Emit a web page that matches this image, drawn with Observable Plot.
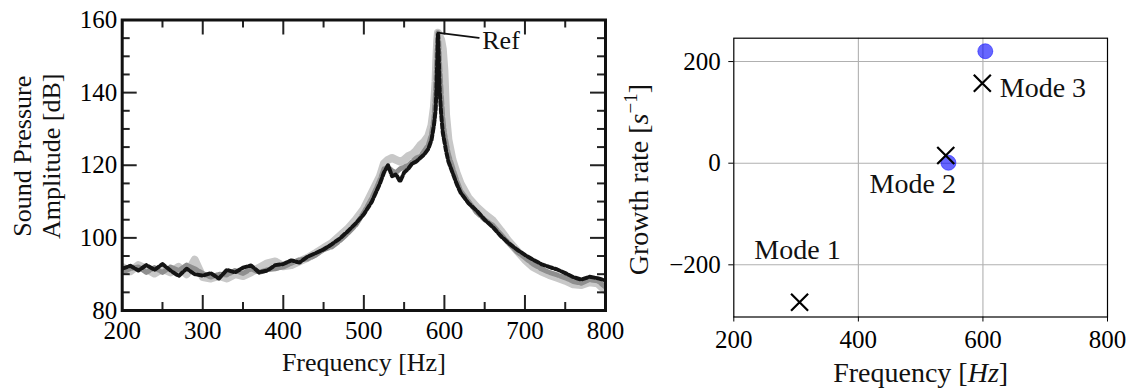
<!DOCTYPE html>
<html><head><meta charset="utf-8">
<script src="https://cdn.jsdelivr.net/npm/d3@7"></script>
<script src="https://cdn.jsdelivr.net/npm/@observablehq/plot@0.6"></script>
<style>
html,body{margin:0;padding:0;background:#fff;}
#wrap{position:relative;width:1131px;height:388px;overflow:hidden;font-family:"Liberation Serif",serif;}
#wrap svg{position:absolute;top:0;}
</style></head><body><div id="wrap"></div>
<script>
// ---------- Left panel data (spectrum) ----------
const freqs = [200,210,220,230,240,250,260,270,280,290,300,310,320,330,340,350,360,370,380,390,400,410,420,430,440,450,460,470,480,490,500,510,520,
  525,530,535,540,545,550,555,560,565,570,575,
  580,584,587,589,590,591,592,593,594,596,598,600,602,605,610,615,620,
  630,640,650,660,670,680,690,700,710,720,730,740,750,760,770,780,790,800];
const ampBlack = [91.5,92.3,91.0,92.5,91.2,92.8,91.0,89.5,91.5,90.0,89.6,90.3,88.8,91.2,90.5,91.8,92.4,90.5,91.0,92.5,92.8,93.8,93.2,94.8,95.8,96.8,98.2,99.8,101.8,104.0,106.5,110.0,115.0,
  118.0,120.0,117.0,117.5,115.5,118.0,119.0,120.5,121.0,122.0,123.0,
  124.5,127.0,131.0,135.0,140.0,148.0,156.0,150.0,141.0,134.0,129.0,126.5,124.0,121.0,118.0,115.0,112.5,
  109.5,107.5,105.0,103.0,100.5,98.5,96.8,95.3,94.0,92.8,92.0,91.3,90.3,89.2,88.5,89.3,88.9,88.3];
const ampGray = [90.5,91.5,92.0,90.5,91.8,90.5,92.0,91.0,92.5,91.5,90.2,89.2,90.0,89.8,91.0,90.2,91.5,90.5,91.2,91.5,92.0,93.0,94.0,94.2,95.2,96.8,97.5,99.2,101.2,103.5,107.0,111.0,116.0,
  119.0,119.5,118.5,118.0,119.0,119.5,120.0,121.0,122.0,122.5,124.0,
  125.5,128.5,133.0,140.0,146.0,152.0,156.5,154.0,148.0,140.0,133.0,129.0,126.5,123.0,119.5,116.0,113.0,
  110.0,107.0,105.0,103.5,101.0,98.5,96.2,94.5,92.8,91.5,90.5,89.8,89.0,88.0,87.5,88.5,88.2,86.5];
const ampLight = [92.0,90.8,92.5,91.5,90.2,91.5,90.5,92.0,90.0,94.0,89.2,88.8,89.5,88.8,90.0,89.5,90.5,91.8,93.0,93.5,92.2,92.5,93.5,94.5,95.8,97.2,98.5,100.5,102.5,105.0,108.0,112.5,117.0,
  120.5,121.5,122.0,121.5,121.0,121.5,122.5,123.0,124.0,125.5,126.5,
  128.0,131.0,136.0,143.0,149.0,154.0,156.5,156.0,155.5,154.5,152.0,146.0,134.0,127.0,121.5,118.0,115.0,
  111.0,108.5,106.5,104.8,102.0,99.0,96.5,94.0,92.0,90.8,89.8,89.0,88.2,87.2,87.0,87.8,87.5,85.5];
const refLineFreq = [591.6, 598.3, 642.7];
const refLineDb = [156.5, 156.3, 155.1];
const refLabel = ["Ref"], refLabelFreq = [647], refLabelDb = [151.9];
const leftXMajor = [200,300,400,500,600,700,800];
const leftXMinor = [250,350,450,550,650,750];
const leftYMajor = [80,100,120,140,160];
const leftYMinor = [85,90,95,105,110,115,125,130,135,145,150,155];

// ---------- Right panel data (modes) ----------
const crossFreq = [305.6, 540.3, 599.0];
const crossRate = [-273.6, 15.0, 157.4];
const circleFreq = [544.6, 603.8];
const circleRate = [0.8, 220.4];
const modeLabels = ["Mode 1", "Mode 2", "Mode 3"];
const modeFreq = [233, 418, 627];
const modeRate = [-188, -58, 130];
const rightXTicks = [200, 400, 600, 800];
const rightYTicks = [-200, 0, 200];

const series = (a) => freqs.map((f, i) => ({f, v: a[i]}));
const FONT = "Liberation Serif";

// ---------- Left plot ----------
const W1 = 620, H1 = 388, mL1 = 121.7, mR1 = 15, mT1 = 19.5, mB1 = 78;
const fw1 = W1 - mL1 - mR1, fh1 = H1 - mT1 - mB1;
const MAJ = 15, MIN = 8;
const tk = {stroke: "#222", strokeWidth: 2};
const left = Plot.plot({
  width: W1, height: H1,
  marginLeft: mL1, marginRight: mR1, marginTop: mT1, marginBottom: mB1,
  x: {domain: [200, 800]},
  y: {domain: [80, 160]},
  style: `font-family: '${FONT}', serif; background: transparent; overflow: visible; max-width: none; position: absolute; left: 0px; top: 0px;`,
  marks: [
    Plot.line(series(ampLight), {x: "f", y: "v", stroke: "#c8c8c8", strokeWidth: 8, strokeLinejoin: "round", clip: true}),
    Plot.line(series(ampGray), {x: "f", y: "v", stroke: "#8f8f8f", strokeWidth: 5, strokeLinejoin: "round", strokeDasharray: "8 3", clip: true}),
    Plot.line(series(ampBlack), {x: "f", y: "v", stroke: "#141414", strokeWidth: 4, strokeLinejoin: "round", strokeDasharray: "5 2.5", clip: true}),
    Plot.ruleX(leftXMajor, {insetTop: fh1 - MAJ, ...tk}),
    Plot.ruleX(leftXMajor, {insetBottom: fh1 - MAJ, ...tk}),
    Plot.ruleX(leftXMinor, {insetTop: fh1 - MIN, ...tk}),
    Plot.ruleX(leftXMinor, {insetBottom: fh1 - MIN, ...tk}),
    Plot.ruleY(leftYMajor, {insetRight: fw1 - MAJ, ...tk}),
    Plot.ruleY(leftYMajor, {insetLeft: fw1 - MAJ, ...tk}),
    Plot.ruleY(leftYMinor, {insetRight: fw1 - MIN, ...tk}),
    Plot.ruleY(leftYMinor, {insetLeft: fw1 - MIN, ...tk}),
    Plot.frame({stroke: "#111", strokeWidth: 3}),
    Plot.axisX(leftXMajor, {tickSize: 0, tickPadding: 11, fontSize: 25, fontFamily: FONT, label: null}),
    Plot.axisY(leftYMajor, {tickSize: 0, tickPadding: 5, fontSize: 25, fontFamily: FONT, label: null}),
    Plot.line(refLineFreq.map((f, i) => ({f, v: refLineDb[i]})), {x: "f", y: "v", stroke: "#111", strokeWidth: 1.8}),
    Plot.text(refLabel, {x: (d, i) => refLabelFreq[i], y: (d, i) => refLabelDb[i], text: d => d, textAnchor: "start", lineAnchor: "bottom", fontSize: 26, fontFamily: FONT, fill: "#111"}),
    Plot.text(["Frequency [Hz]"], {frameAnchor: "bottom", lineAnchor: "bottom", dy: 60.7, fontSize: 26, fontFamily: FONT, fill: "#111"}),
    Plot.text(["Sound Pressure\nAmplitude [dB]"], {frameAnchor: "left", rotate: -90, textAnchor: "middle", lineAnchor: "middle", lineHeight: 1.15, dx: -86.3, dy: -9, fontSize: 26, fontFamily: FONT, fill: "#111"})
  ]
});

// ---------- Right plot ----------
const W2 = 531, H2 = 388, mL2 = 133.3, mR2 = 24, mT2 = 37.7, mB2 = 71.5;
const right = Plot.plot({
  width: W2, height: H2,
  marginLeft: mL2, marginRight: mR2, marginTop: mT2, marginBottom: mB2,
  x: {domain: [200, 800]},
  y: {domain: [-302.7, 246]},
  style: `font-family: '${FONT}', serif; background: transparent; overflow: visible; max-width: none; position: absolute; left: 600px; top: 0px;`,
  marks: [
    Plot.gridX([400, 600], {stroke: "#b0b0b0", strokeOpacity: 1, strokeWidth: 1.1}),
    Plot.gridY(rightYTicks, {stroke: "#b0b0b0", strokeOpacity: 1, strokeWidth: 1.1}),
    Plot.frame({stroke: "#000", strokeWidth: 1.2}),
    Plot.dot(circleFreq.map((f, i) => ({f, r: circleRate[i]})), {x: "f", y: "r", r: 7.5, fill: "blue", fillOpacity: 0.6, stroke: "blue", strokeOpacity: 0.6, strokeWidth: 0.8}),
    Plot.dot(crossFreq.map((f, i) => ({f, r: crossRate[i]})), {x: "f", y: "r", symbol: "times", r: 7.8, stroke: "#000", strokeWidth: 2.2}),
    Plot.text(modeLabels.map((t, i) => ({t, f: modeFreq[i], r: modeRate[i]})), {x: "f", y: "r", text: "t", textAnchor: "start", lineAnchor: "bottom", fontSize: 28, fontFamily: FONT, fill: "#111"}),
    Plot.axisX(rightXTicks, {tickSize: 5, tickPadding: 8, fontSize: 25, fontFamily: FONT, label: null}),
    Plot.axisY(rightYTicks, {tickSize: 5, tickPadding: 8, fontSize: 25, fontFamily: FONT, label: null}),
    Plot.text(["Frequency [Hz]"], {frameAnchor: "bottom", lineAnchor: "bottom", dy: 65.2, fontSize: 28, fontFamily: FONT, fill: "#111"}),
    Plot.text(["Growth rate [s−1]"], {frameAnchor: "left", rotate: -90, textAnchor: "middle", lineAnchor: "bottom", dx: -86.3, dy: 2, fontSize: 28, fontFamily: FONT, fill: "#111"})
  ]
});

d3.select(left).attr("font-family", FONT);
d3.select(right).attr("font-family", FONT);

function rich(svg, content, parts) {
  d3.select(svg).selectAll("text")
    .filter(function () { return this.textContent === content; })
    .each(function () {
      const t = d3.select(this);
      t.text(null);
      for (const p of parts) {
        const s = t.append("tspan").text(p.t);
        if (p.italic) s.attr("font-style", "italic");
        if (p.size) s.attr("font-size", p.size);
        if (p.dy) s.attr("dy", p.dy);
      }
    });
}
rich(right, "Frequency [Hz]", [{t: "Frequency ["}, {t: "Hz", italic: true}, {t: "]"}]);
rich(right, "Growth rate [s−1]", [{t: "Growth rate ["}, {t: "s", italic: true}, {t: "−1", size: 19, dy: -11}, {t: "]", dy: 11}]);

const wrap = document.getElementById("wrap");
wrap.appendChild(left);
wrap.appendChild(right);
</script></body></html>
